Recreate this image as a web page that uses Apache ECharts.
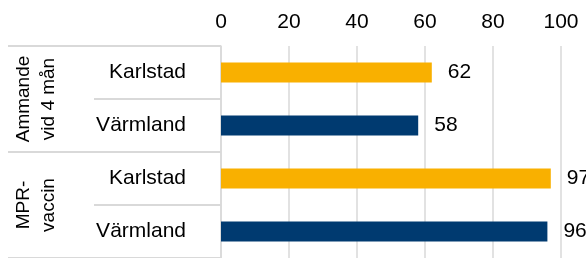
<!DOCTYPE html>
<html>
<head>
<meta charset="utf-8">
<script src="https://cdn.jsdelivr.net/npm/echarts@6/dist/echarts.min.js"></script>
<style>
html,body{margin:0;padding:0;background:#fff;}
#c{width:586px;height:258px;}
</style>
</head>
<body>
<div id="c"></div>
<script>
var categories = ['Karlstad', 'Värmland', 'Karlstad', 'Värmland'];
var groups = ['Ammande\nvid 4 mån', 'MPR-\nvaccin'];
var values = [62, 58, 97, 96];
var xTicks = [0, 20, 40, 60, 80, 100];
var cityColors = { 'Karlstad': '#F9B000', 'Värmland': '#003A70' };

var FONT = 'Liberation Sans, Arial, sans-serif';
var GRID = '#d9d9d9';

var chart = echarts.init(document.getElementById('c'), null, { renderer: 'canvas' });
chart.setOption({
  animation: false,
  grid: { left: 221, right: 25, top: 46, bottom: 0, containLabel: false },
  xAxis: {
    type: 'value', position: 'top',
    min: xTicks[0], max: xTicks[xTicks.length - 1], interval: 20,
    axisLine: { show: false }, axisTick: { show: false },
    axisLabel: { color: '#000', fontSize: 21, fontFamily: FONT, margin: 13 },
    splitLine: { lineStyle: { color: GRID, width: 1.5 } }
  },
  yAxis: [
    {
      type: 'category', inverse: true, data: categories,
      axisLine: { show: true, lineStyle: { color: GRID, width: 1.5 } },
      axisTick: { show: true, alignWithLabel: false, length: 127, interval: 0, lineStyle: { color: GRID, width: 2 } },
      axisLabel: { color: '#000', fontSize: 21, fontFamily: FONT, margin: 35, interval: 0 }
    },
    {
      type: 'category', inverse: true, data: groups, position: 'left',
      axisLine: { show: false }, axisTick: { show: false },
      axisLabel: { color: '#000', fontSize: 19, lineHeight: 25, fontFamily: FONT, margin: 160, rotate: 90, interval: 0 }
    }
  ],
  series: [{
    type: 'bar', yAxisIndex: 0, barWidth: 20,
    data: values.map(function (v, i) { return { value: v, itemStyle: { color: cityColors[categories[i]] } }; }),
    label: { show: true, position: 'right', distance: 16, color: '#000', fontSize: 21, fontFamily: FONT }
  }]
});

// Group separator lines (decoration), positioned from the group axis scale
var c0 = chart.convertToPixel({ yAxisIndex: 1 }, 0);
var c1 = chart.convertToPixel({ yAxisIndex: 1 }, 1);
var band = c1 - c0;
var lines = [];
for (var g = 0; g <= groups.length; g++) {
  var y = Math.round(c0 - band / 2 + g * band);
  lines.push({
    type: 'line', silent: true,
    shape: { x1: 8, y1: y, x2: 220, y2: y },
    style: { stroke: GRID, lineWidth: 2 }
  });
}
chart.setOption({ graphic: lines });
</script>
</body>
</html>
